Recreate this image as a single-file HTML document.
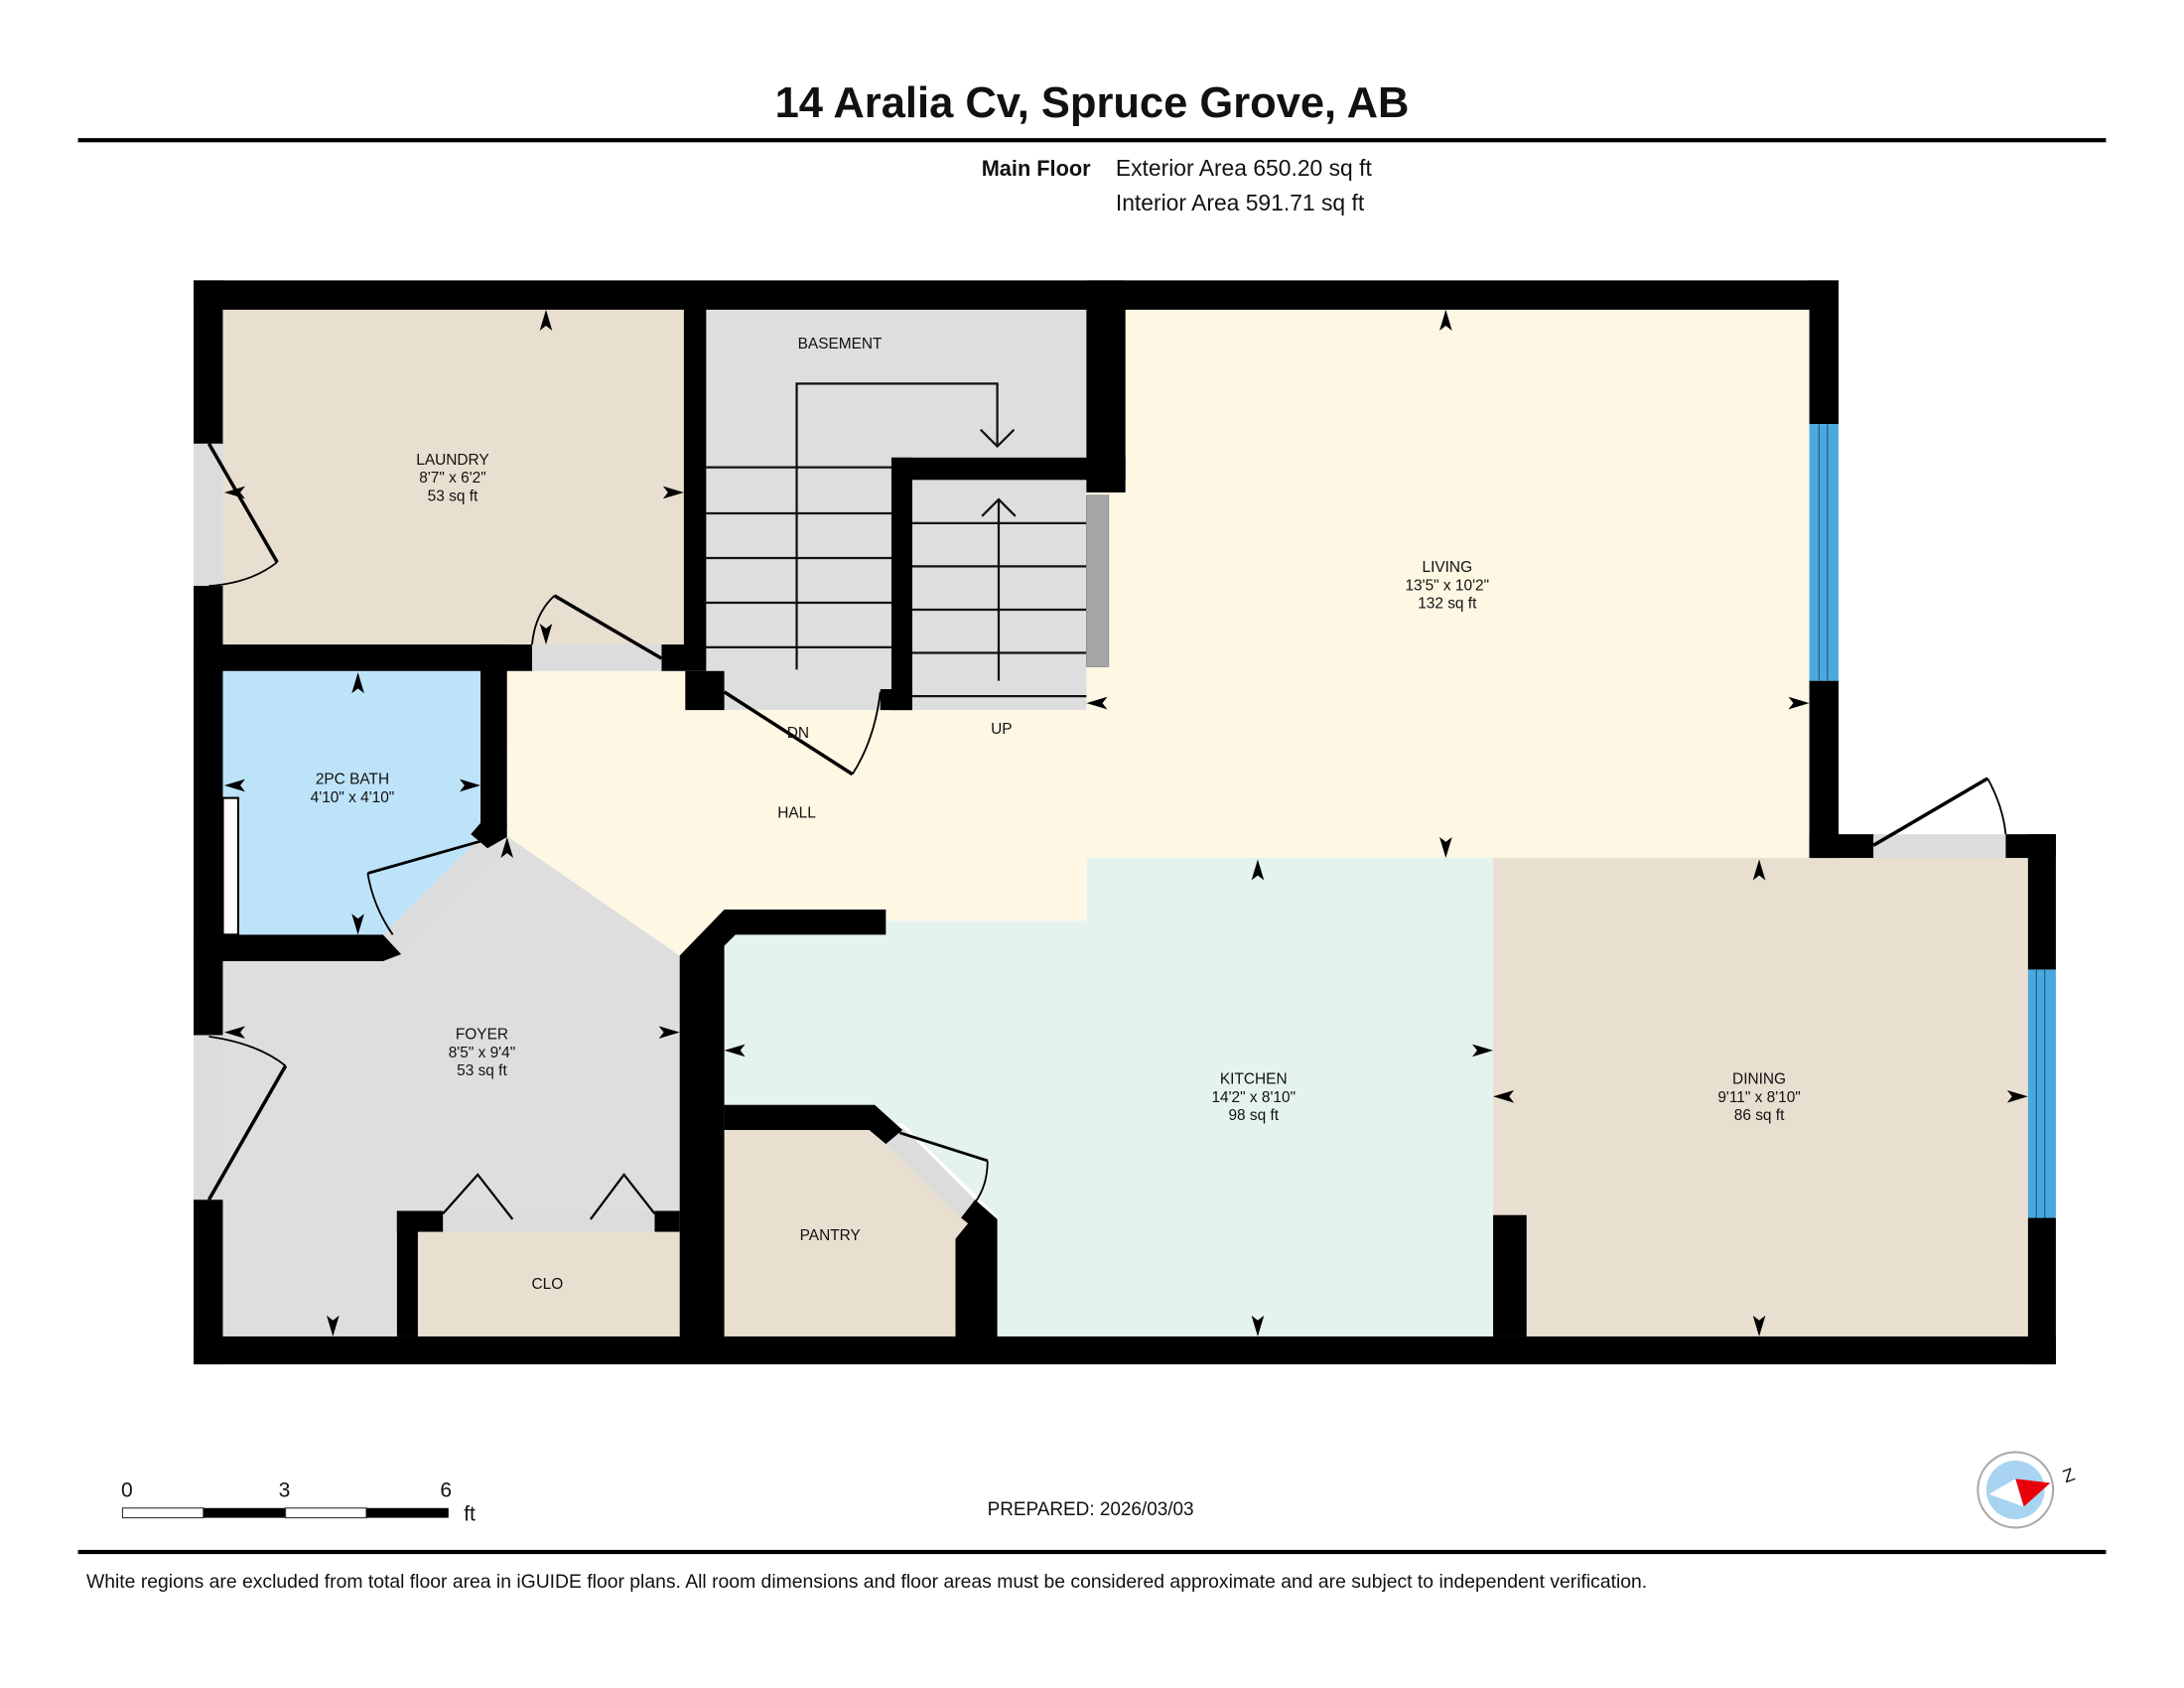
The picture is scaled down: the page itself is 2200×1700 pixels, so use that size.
<!DOCTYPE html>
<html><head><meta charset="utf-8"><style>
html,body{margin:0;padding:0;background:#fff;}
svg{display:block;}
text{font-family:"Liberation Sans",Arial,sans-serif;fill:#111;}
</style></head><body>
<svg width="2200" height="1700" viewBox="0 0 1568 1210" preserveAspectRatio="none" xmlns="http://www.w3.org/2000/svg">
<defs>
<path id="ah" d="M0,-10 L4.5,5 L0,1.5 L-4.5,5 Z" fill="#000"/>
</defs>
<!-- header -->
<text x="784" y="84" font-size="31" font-weight="bold" text-anchor="middle">14 Aralia Cv, Spruce Grove, AB</text>
<rect x="56" y="99" width="1456" height="3" fill="#000"/>
<text x="783" y="126" font-size="15.5" font-weight="bold" text-anchor="end">Main Floor</text>
<text x="801" y="126" font-size="16.3">Exterior Area 650.20 sq ft</text>
<text x="801" y="151" font-size="16.3">Interior Area 591.71 sq ft</text>

<!-- room fills -->
<rect x="160" y="221" width="332" height="242" fill="#e8dfd0"/>
<rect x="160" y="481" width="186" height="190" fill="#bde3f9"/>
<polygon points="160,689 275,689 355,600 365,600 488,685 488,958 160,958" fill="#dedede"/>
<rect x="300" y="883" width="188" height="75" fill="#e8dfd0"/>
<rect x="507" y="221" width="274" height="288" fill="#dedede"/>
<polygon points="808,221 1299,221 1299,615 1072,615 1072,616 780,616 780,660 636,660 636,652 520,652 488,685 365,600 364,481 492,481 492,509 780,509 780,353 808,353" fill="#fdf7e3"/>
<polygon points="780,615 1072,615 1072,958 716,958 716,872 648,805 520,805 520,670 636,670 636,660 780,660" fill="#e5f3ee"/>
<polygon points="520,810 628,810 695,877 686,888 686,958 520,958" fill="#e8dfd0"/>
<rect x="1072" y="615" width="384" height="343" fill="#e8dfd0"/>

<!-- stairs -->
<g stroke="#111" stroke-width="1.6" fill="none">
<line x1="507" y1="335" x2="640" y2="335"/>
<line x1="507" y1="368" x2="640" y2="368"/>
<line x1="507" y1="400" x2="640" y2="400"/>
<line x1="507" y1="432" x2="640" y2="432"/>
<line x1="507" y1="464" x2="640" y2="464"/>
<line x1="655" y1="375" x2="780" y2="375"/>
<line x1="655" y1="406" x2="780" y2="406"/>
<line x1="655" y1="437" x2="780" y2="437"/>
<line x1="655" y1="468" x2="780" y2="468"/>
<line x1="655" y1="499" x2="780" y2="499"/>
<polyline points="572,480 572,275 716,275 716,320"/>
<polyline points="704,308 716,320 728,308"/>
<line x1="717" y1="488" x2="717" y2="358"/>
<polyline points="705,370 717,358 729,370"/>
</g>
<rect x="780" y="355" width="16" height="123" fill="#a6a6a6" stroke="#888" stroke-width="0.5"/>
<rect x="520" y="494" width="112" height="14" fill="#dedede"/>

<!-- door thresholds -->
<rect x="139" y="318" width="21" height="102" fill="#dcdcdc"/>
<rect x="139" y="742" width="21" height="118" fill="#dcdcdc"/>
<rect x="382" y="462" width="94" height="19" fill="#dcdcdc"/>
<rect x="318" y="868" width="152" height="15" fill="#dcdcdc"/>
<rect x="1345" y="598" width="95" height="17" fill="#dcdcdc"/>
<polygon points="275,670 345,600 360,612 288,684" fill="#dcdcdc"/>
<polygon points="636,820 648,808 700,860 690,873" fill="#dcdcdc"/>

<!-- walls -->
<g fill="#000">
<rect x="139" y="201" width="1181" height="21"/>
<rect x="139" y="201" width="21" height="117"/>
<rect x="139" y="420" width="21" height="322"/>
<rect x="139" y="860" width="21" height="118"/>
<rect x="139" y="958" width="1337" height="20"/>
<rect x="1299" y="201" width="21" height="103"/>
<rect x="1299" y="488" width="21" height="127"/>
<rect x="1299" y="598" width="46" height="17"/>
<rect x="1440" y="598" width="36" height="17"/>
<rect x="1456" y="598" width="20" height="97"/>
<rect x="1456" y="873" width="20" height="105"/>
<rect x="139" y="462" width="243" height="19"/>
<rect x="345" y="462" width="19" height="130"/>
<polygon points="345,590 364,590 364,600 350,608 338,598"/>
<polygon points="139,670 265,670 275,670 288,684 275,689 139,689"/>
<rect x="491" y="221" width="16" height="244"/>
<rect x="475" y="462" width="32" height="19"/>
<rect x="492" y="481" width="28" height="28"/>
<rect x="632" y="494" width="23" height="15"/>
<rect x="780" y="201" width="28" height="152"/>
<rect x="640" y="328" width="168" height="16"/>
<rect x="640" y="328" width="15" height="181"/>
<polygon points="520,652 636,652 636,670 528,670 520,678 520,958 488,958 488,685"/>
<polygon points="520,792 628,792 648,810 636,820 624,810 520,810"/>
<polygon points="700,860 716,874 716,958 686,958 686,888 695,877 690,873"/>
<rect x="285" y="868" width="15" height="90"/>
<rect x="285" y="868" width="33" height="15"/>
<rect x="470" y="868" width="18" height="15"/>
<rect x="1072" y="871" width="24" height="87"/>
</g>
<!-- windows -->
<rect x="1299" y="304" width="21" height="184" fill="#4aa8de"/>
<line x1="1306" y1="304" x2="1306" y2="488" stroke="#1a5a85" stroke-width="0.8"/>
<line x1="1312" y1="304" x2="1312" y2="488" stroke="#1a5a85" stroke-width="0.8"/>
<rect x="1456" y="695" width="20" height="178" fill="#4aa8de"/>
<line x1="1462" y1="695" x2="1462" y2="873" stroke="#1a5a85" stroke-width="0.8"/>
<line x1="1468" y1="695" x2="1468" y2="873" stroke="#1a5a85" stroke-width="0.8"/>
<rect x="160" y="572" width="11" height="98" fill="#fff" stroke="#000" stroke-width="1.5"/>

<!-- door swings -->
<g stroke="#000" fill="none">
<line x1="150" y1="318" x2="199" y2="403" stroke-width="2.5"/>
<path d="M199,403 Q180,418 150,420" stroke-width="1.3"/>
<line x1="398" y1="427" x2="475" y2="472" stroke-width="2.5"/>
<path d="M398,427 Q384,440 382,462" stroke-width="1.3"/>
<line x1="520" y1="496" x2="612" y2="555" stroke-width="2.5"/>
<path d="M612,555 Q628,530 632,496" stroke-width="1.3"/>
<line x1="345" y1="603" x2="264" y2="626" stroke-width="2"/>
<path d="M264,626 Q268,650 282,670" stroke-width="1.3"/>
<line x1="646" y1="812" x2="709" y2="832" stroke-width="2"/>
<path d="M709,832 Q709,850 700,862" stroke-width="1.3"/>
<line x1="150" y1="860" x2="205" y2="764" stroke-width="2.5"/>
<path d="M205,764 Q185,748 150,743" stroke-width="1.3"/>
<line x1="1345" y1="606" x2="1427" y2="558" stroke-width="2.5"/>
<path d="M1427,558 Q1438,578 1440,598" stroke-width="1.3"/>
<polyline points="318,870 343,842 368,874" stroke-width="1.6"/>
<polyline points="424,874 448,842 470,870" stroke-width="1.6"/>
</g>

<!-- dimension arrowheads -->
<use href="#ah" x="392" y="232"/>
<use href="#ah" transform="translate(481,353) rotate(90)"/>
<use href="#ah" transform="translate(171,353) rotate(-90)"/>
<use href="#ah" transform="translate(392,452) rotate(180)"/>
<use href="#ah" x="257" y="492"/>
<use href="#ah" transform="translate(171,563) rotate(-90)"/>
<use href="#ah" transform="translate(335,563) rotate(90)"/>
<use href="#ah" transform="translate(257,660) rotate(180)"/>
<use href="#ah" x="364" y="610"/>
<use href="#ah" transform="translate(171,740) rotate(-90)"/>
<use href="#ah" transform="translate(478,740) rotate(90)"/>
<use href="#ah" transform="translate(239,948) rotate(180)"/>
<use href="#ah" x="1038" y="232"/>
<use href="#ah" transform="translate(1289,504) rotate(90)"/>
<use href="#ah" transform="translate(790,504) rotate(-90)"/>
<use href="#ah" transform="translate(1038,605) rotate(180)"/>
<use href="#ah" x="903" y="626"/>
<use href="#ah" transform="translate(530,753) rotate(-90)"/>
<use href="#ah" transform="translate(1062,753) rotate(90)"/>
<use href="#ah" transform="translate(903,948) rotate(180)"/>
<use href="#ah" x="1263" y="626"/>
<use href="#ah" transform="translate(1082,786) rotate(-90)"/>
<use href="#ah" transform="translate(1446,786) rotate(90)"/>
<use href="#ah" transform="translate(1263,948) rotate(180)"/>

<!-- labels -->
<g font-size="11" text-anchor="middle">
<text x="325" y="333">LAUNDRY</text><text x="325" y="346">8'7" x 6'2"</text><text x="325" y="359">53 sq ft</text>
<text x="603" y="250">BASEMENT</text>
<text x="573" y="529">DN</text><text x="719" y="526">UP</text>
<text x="572" y="586">HALL</text>
<text x="253" y="562">2PC BATH</text><text x="253" y="575">4'10" x 4'10"</text>
<text x="346" y="745">FOYER</text><text x="346" y="758">8'5" x 9'4"</text><text x="346" y="771">53 sq ft</text>
<text x="393" y="924">CLO</text>
<text x="596" y="889">PANTRY</text>
<text x="1039" y="410">LIVING</text><text x="1039" y="423">13'5" x 10'2"</text><text x="1039" y="436">132 sq ft</text>
<text x="900" y="777">KITCHEN</text><text x="900" y="790">14'2" x 8'10"</text><text x="900" y="803">98 sq ft</text>
<text x="1263" y="777">DINING</text><text x="1263" y="790">9'11" x 8'10"</text><text x="1263" y="803">86 sq ft</text>
</g>

<!-- scale -->
<text x="87" y="1073" font-size="15">0</text>
<text x="200" y="1073" font-size="15">3</text>
<text x="316" y="1073" font-size="15">6</text>
<text x="333" y="1090" font-size="15">ft</text>
<rect x="88" y="1081" width="58" height="7" fill="#fff" stroke="#333" stroke-width="0.8"/>
<rect x="146" y="1081" width="59" height="7" fill="#000"/>
<rect x="205" y="1081" width="58" height="7" fill="#fff" stroke="#333" stroke-width="0.8"/>
<rect x="263" y="1081" width="59" height="7" fill="#000"/>
<text x="783" y="1086" font-size="13.5" text-anchor="middle">PREPARED: 2026/03/03</text>

<!-- compass -->
<circle cx="1447" cy="1068" r="27" fill="#fff" stroke="#aaa" stroke-width="1.5"/>
<circle cx="1447" cy="1068" r="21" fill="#a8d4f2"/>
<polygon points="1428,1071 1447,1060 1453,1080" fill="#fff"/>
<polygon points="1447,1060 1472,1063 1453,1080" fill="#e8000b"/>
<text x="1483" y="1063" font-size="13" transform="rotate(-20 1483 1063)">Z</text>

<rect x="56" y="1111" width="1456" height="3" fill="#000"/>
<text x="62" y="1138" font-size="13.8">White regions are excluded from total floor area in iGUIDE floor plans. All room dimensions and floor areas must be considered approximate and are subject to independent verification.</text>
</svg>
</body></html>
